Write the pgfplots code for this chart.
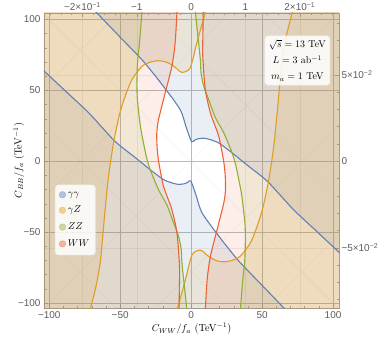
\documentclass[border=0pt]{standalone}
\usepackage{fontspec}
\setsansfont{Liberation Sans}
\usepackage{pgfplots}
\pgfplotsset{compat=1.18}
\usepackage{pgfplotstable}

\definecolor{cblue}{HTML}{5E81B5}
\definecolor{corange}{HTML}{E19C24}
\definecolor{cgreen}{HTML}{8FB032}
\definecolor{cred}{HTML}{EB6235}
\definecolor{framec}{HTML}{A0A0A0}
\definecolor{ticklab}{HTML}{5C5C5C}

\pgfplotstableread{
x y
-71.5 110
-66.5 104.7
-50 87.5
-33.6 70.4
-19.5 52.8
-7.7 36.4
-3.5 24
0.3 13.8
2.5 15
5 15.9
9 16.3
13 15.4
19.3 13
27.5 7
40 -3.1
54 -14.4
72 -34
88 -49
104 -64
110 -69.5
}\bluea
\pgfplotstableread{
x y
71.5 -110
66.5 -104.7
50 -87.5
33.6 -70.4
19.5 -52.8
7.7 -36.4
3.5 -24
-0.3 -13.8
-2.5 -15
-5 -15.9
-9 -16.3
-13 -15.4
-19.3 -13
-27.5 -7
-40 3.1
-54 14.4
-72 34
-88 49
-104 64
-110 69.5
}\blueb
\pgfplotstableread{
x y
12 110
10.3 106
4 83.4
-0.7 65.8
-6.6 62.7
-10 65.2
-13.6 68
-18.5 70.3
-24.2 70.9
-30 69.5
-34.7 66.9
-41.8 57.5
-46.5 45.8
-50.5 33
-54.7 13
-58.2 -10.5
-60.6 -34
-62.5 -55
-64 -71
-67 -88
-71 -104
-73 -110
}\orangea
\pgfplotstableread{
x y
73 110
71 104
67 88
64 71
62.5 55
60.6 34
58.2 10.5
54.7 -13
50.5 -33
46.5 -45.8
41.8 -57.5
34.7 -66.9
30 -69.5
24.2 -70.9
18.5 -70.3
13.6 -68
10 -65.2
6.6 -62.7
0.7 -65.8
-4 -83.4
-10.3 -106
-12 -110
}\orangeb
\pgfplotstableread{
x y
-34.5 110
-34.7 105
-36.4 83.4
-37.8 69.5
-38.2 55
-38 45
-37 35
-35.5 23
-33.6 13
-31.5 3
-28.9 -5.8
-23 -20
-17 -31
-12.4 -43.4
-8.9 -52.8
-7 -62
-6.5 -71.5
-4.8 -88
-3 -105
-2.7 -110
}\greena
\pgfplotstableread{
x y
2.7 110
3 105
4.8 88
6.5 71.5
7 62
8.9 52.8
12.4 43.4
17 31
23 20
28.9 5.8
31.5 -3
33.6 -13
35.5 -23
37 -35
38 -45
38.2 -55
37.8 -69.5
36.4 -83.4
34.7 -105
34.5 -110
}\greenb
\pgfplotstableread{
x y
-9.8 110
-10 105
-11.3 83.4
-13.6 66.9
-18.3 48.2
-23 29.4
-24.2 20
-24 10
-23.1 1.2
-21.5 -8
-19.5 -17.6
-16.5 -26
-13.6 -34
-10 -50.4
-8.2 -74
-8.3 -90
-8.5 -105
-8.5 -110
}\reda
\pgfplotstableread{
x y
8.5 110
8.5 105
8.3 90
8.2 74
10 50.4
13.6 34
16.5 26
19.5 17.6
21.5 8
23.1 -1.2
24 -10
24.2 -20
23 -29.4
18.3 -48.2
13.6 -66.9
11.3 -83.4
10 -105
9.8 -110
}\redb

\pgfplotsset{
  common/.style={
    scale only axis, width=295bp, height=295bp,
    xmin=-103.7, xmax=104.2, ymin=-103.5, ymax=104.6,
    axis line style={framec, line width=0.5pt},
    tick align=inside,
    major tick length=4bp, minor tick length=2.5bp,
    every tick/.style={framec, line width=0.4pt},
    tick label style={font=\sffamily\fontsize{10}{11}\selectfont, text=ticklab},
  }
}

\begin{document}
\begin{tikzpicture}
% secondary axis (top and right)
\begin{axis}[common,
  xtick pos=right, xticklabel pos=right,
  ytick pos=right, yticklabel pos=right,
  xtick={-76.6,-38.3,0,38.3,76.6},
  xticklabels={−2×10\textsuperscript{−1}, −1, 0, 1, 2×10\textsuperscript{−1}},
  minor xtick={-99.6,-91.9,-84.3,-68.9,-61.3,-53.6,-46.0,-30.6,-23.0,-15.3,-7.7,7.7,15.3,23.0,30.6,46.0,53.6,61.3,68.9,84.3,91.9,99.6},
  ytick={-61,0,61},
  yticklabels={−5×10\textsuperscript{−2}, 0, 5×10\textsuperscript{−2}},
  minor ytick={-97.6,-85.4,-73.2,-48.8,-36.6,-24.4,-12.2,12.2,24.4,36.6,48.8,73.2,85.4,97.6},
  grid=major, grid style={gray!13, line width=0.4pt},
  xticklabel style={yshift=-1.5bp},
  yticklabel style={xshift=-1bp},
]
\addplot[forget plot, gray!12, line width=0.4pt] coordinates {(-306,150) (-6,-150)};
\addplot[forget plot, gray!12, line width=0.4pt] coordinates {(-228,150) (72,-150)};
\addplot[forget plot, gray!12, line width=0.4pt] coordinates {(-150,150) (150,-150)};
\addplot[forget plot, gray!12, line width=0.4pt] coordinates {(-72,150) (228,-150)};
\addplot[forget plot, gray!12, line width=0.4pt] coordinates {(6,150) (306,-150)};
\addplot[forget plot, gray!12, line width=0.4pt] coordinates {(-306,-150) (-6,150)};
\addplot[forget plot, gray!12, line width=0.4pt] coordinates {(-228,-150) (72,150)};
\addplot[forget plot, gray!12, line width=0.4pt] coordinates {(-150,-150) (150,150)};
\addplot[forget plot, gray!12, line width=0.4pt] coordinates {(-72,-150) (228,150)};
\addplot[forget plot, gray!12, line width=0.4pt] coordinates {(6,-150) (306,150)};
\end{axis}

% main axis
\begin{axis}[common,
  xtick pos=left, ytick pos=left,
  xtick={-100,-50,0,50,100},
  xticklabels={−100, −50, 0, 50, 100},
  ytick={-100,-50,0,50,100},
  yticklabels={−100, −50, 0, 50, 100},
  minor xtick={-90,-80,-70,-60,-40,-30,-20,-10,10,20,30,40,60,70,80,90},
  minor ytick={-90,-80,-70,-60,-40,-30,-20,-10,10,20,30,40,60,70,80,90},
  grid=major, grid style={gray!55, line width=0.5pt},
  xlabel={$C_{WW}/f_a$ (TeV$^{-1}$)},
  ylabel={$C_{BB}/f_a$ (TeV$^{-1}$)},
  label style={font=\fontsize{10.3}{12}\selectfont},
  xlabel style={yshift=2bp},
  ylabel style={yshift=-13bp},
  legend style={at={(0.037,0.418)}, anchor=north west,
    font=\fontsize{10}{12}\selectfont, row sep=4.5bp,
    inner xsep=4bp, inner ysep=5bp,
    draw=gray!20, fill=white, fill opacity=0.85, text opacity=1,
    rounded corners=3bp, cells={anchor=west}},
]
\coordinate (SW) at (rel axis cs:0,0);
\coordinate (NE) at (rel axis cs:1,1);
% excluded regions
\addplot[forget plot, smooth, tension=0.45, draw=none, fill=cblue, fill opacity=0.13] table {\bluea} -- (axis cs:110,110) -- cycle;
\addplot[forget plot, smooth, tension=0.45, draw=none, fill=cblue, fill opacity=0.13] table {\blueb} -- (axis cs:-110,-110) -- cycle;
\addplot[forget plot, smooth, tension=0.45, draw=none, fill=corange, fill opacity=0.13] table {\orangea} -- (axis cs:-110,-110) -- (axis cs:-110,110) -- cycle;
\addplot[forget plot, smooth, tension=0.45, draw=none, fill=corange, fill opacity=0.13] table {\orangeb} -- (axis cs:110,-110) -- (axis cs:110,110) -- cycle;
\addplot[forget plot, smooth, tension=0.45, draw=none, fill=cgreen, fill opacity=0.11] table {\greena} -- (axis cs:-110,-110) -- (axis cs:-110,110) -- cycle;
\addplot[forget plot, smooth, tension=0.45, draw=none, fill=cgreen, fill opacity=0.11] table {\greenb} -- (axis cs:110,-110) -- (axis cs:110,110) -- cycle;
\addplot[forget plot, smooth, tension=0.45, draw=none, fill=cred, fill opacity=0.11] table {\reda} -- (axis cs:-110,-110) -- (axis cs:-110,110) -- cycle;
\addplot[forget plot, smooth, tension=0.45, draw=none, fill=cred, fill opacity=0.11] table {\redb} -- (axis cs:110,-110) -- (axis cs:110,110) -- cycle;
% boundary curves
\addplot[forget plot, smooth, tension=0.45, cblue, line width=1.1pt] table {\bluea};
\addplot[forget plot, smooth, tension=0.45, cblue, line width=1.1pt] table {\blueb};
\addplot[forget plot, smooth, tension=0.45, corange, line width=1.1pt] table {\orangea};
\addplot[forget plot, smooth, tension=0.45, corange, line width=1.1pt] table {\orangeb};
\addplot[forget plot, smooth, tension=0.45, cgreen, line width=1.1pt] table {\greena};
\addplot[forget plot, smooth, tension=0.45, cgreen, line width=1.1pt] table {\greenb};
\addplot[forget plot, smooth, tension=0.45, cred, line width=1.1pt] table {\reda};
\addplot[forget plot, smooth, tension=0.45, cred, line width=1.1pt] table {\redb};
% legend
\addlegendimage{legend image code/.code={\draw[fill=cblue!55!white, draw=cblue!75!white, line width=0.3pt] (0bp,-3.2bp) rectangle (6.4bp,3.2bp);}}
\addlegendimage{legend image code/.code={\draw[fill=corange!55!white, draw=corange!75!white, line width=0.3pt] (0bp,-3.2bp) rectangle (6.4bp,3.2bp);}}
\addlegendimage{legend image code/.code={\draw[fill=cgreen!55!white, draw=cgreen!75!white, line width=0.3pt] (0bp,-3.2bp) rectangle (6.4bp,3.2bp);}}
\addlegendimage{legend image code/.code={\draw[fill=cred!55!white, draw=cred!75!white, line width=0.3pt] (0bp,-3.2bp) rectangle (6.4bp,3.2bp);}}
\legend{$\gamma\gamma$, $\gamma Z$, $ZZ$, $WW$}
% info box
\node[fill=white, fill opacity=0.85, text opacity=1, draw=gray!15, rounded corners=3bp,
  align=center, inner xsep=4bp, inner ysep=4bp, font=\fontsize{10}{16}\selectfont]
  at (rel axis cs:0.859,0.839) {$\sqrt{s}=13$ TeV\\ $L=3$ ab$^{-1}$\\ $m_a=1$ TeV};
\end{axis}
\pgfresetboundingbox
\path ([xshift=-44bp,yshift=-33bp]SW) rectangle ([xshift=43bp,yshift=13bp]NE);
\end{tikzpicture}
\end{document}
